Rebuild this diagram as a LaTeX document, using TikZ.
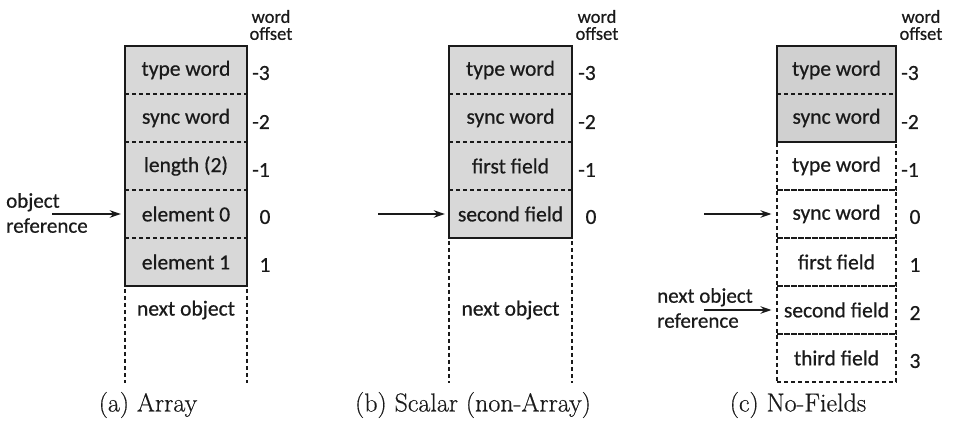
\documentclass[tikz,border=0pt]{standalone}
\usepackage{fontspec}
\newfontfamily\carl[FakeBold=0.6]{Carlito}
\newfontfamily\capf[FakeBold=0.5]{Latin Modern Roman}
\usetikzlibrary{arrows.meta}
\definecolor{grayA}{HTML}{D8D8D8}
\definecolor{grayC}{HTML}{D0D0D0}
\definecolor{ink}{HTML}{1A1A1A}
\begin{document}
\begin{tikzpicture}[x=1pt,y=-1pt,
  txt/.style={font=\carl\fontsize{21.5}{23}\selectfont, text=ink, inner sep=0pt},
  cell/.style={txt, minimum height=48pt},
  off/.style={txt},
  wo/.style={font=\carl\fontsize{18.5}{17}\selectfont, text=ink, inner sep=0pt, align=center},
  lbl/.style={font=\carl\fontsize{21}{25}\selectfont, text=ink, inner sep=0pt, align=left, anchor=west},
  sep/.style={draw=ink, dash pattern=on 4pt off 3pt, line width=1.1pt},
  outer/.style={draw=ink, line width=1.5pt},
  wcell/.style={cell, draw=ink, dash pattern=on 4pt off 3pt, line width=1.1pt},
  arr/.style={draw=ink, -{Stealth[length=11pt,width=7.5pt]}, line width=1.4pt},
  captxt/.style={font=\capf\fontsize{26}{28}\selectfont, text=ink, inner sep=0pt}
]
\useasboundingbox (0,0) rectangle (954,422);

% ---------------- (a) Array ----------------
\fill[grayA] (125,46) rectangle (247,286);
\foreach \y in {94,142,190,238} \draw[sep] (125,\y) -- (247,\y);
\draw[outer] (125,46) rectangle (247,286);
\node[cell, minimum width=122pt] (a1) at (186,70) {type word};
\node[cell, minimum width=122pt] (a2) at (186,118) {sync word};
\node[cell, minimum width=122pt] (a3) at (186,166) {length (2)};
\node[cell, minimum width=122pt] (a4) at (186,214) {element 0};
\node[cell, minimum width=122pt] (a5) at (186,262) {element 1};
\draw[sep] (125,289) -- (125,383);
\draw[sep] (247,289) -- (247,383);
\node[txt] (anext) at (186,310) {next object};
\node[off] (ao1) at (261,73) {-3};
\node[off] (ao2) at (261,122) {-2};
\node[off] (ao3) at (261,170) {-1};
\node[off] (ao4) at (265,217) {0};
\node[off] (ao5) at (265,265) {1};
\node[wo] (aw) at (271,25) {word\\offset};
\node[lbl] (aref) at (6,213) {object\\reference};
\coordinate (atail) at (52,214);
\draw[arr, shorten >=4pt] (atail) -- (a4.west);
\node[captxt] (acap) at (148,405) {(a) Array};

% ---------------- (b) Scalar ----------------
\fill[grayA] (449,46) rectangle (572,238);
\foreach \y in {94,142,190} \draw[sep] (449,\y) -- (572,\y);
\draw[outer] (449,46) rectangle (572,238);
\node[cell, minimum width=123pt] (b1) at (510.5,70) {type word};
\node[cell, minimum width=123pt] (b2) at (510.5,118) {sync word};
\node[cell, minimum width=123pt] (b3) at (510.5,166) {first field};
\node[cell, minimum width=123pt] (b4) at (510.5,214) {second field};
\draw[sep] (449,241) -- (449,383);
\draw[sep] (572,241) -- (572,383);
\node[txt] (bnext) at (510.5,310) {next object};
\node[off] (bo1) at (587,73) {-3};
\node[off] (bo2) at (587,122) {-2};
\node[off] (bo3) at (587,170) {-1};
\node[off] (bo4) at (591,217) {0};
\node[wo] (bw) at (597,25) {word\\offset};
\coordinate (btail) at (378,214);
\draw[arr, shorten >=4pt] (btail) -- (b4.west);
\node[captxt] (bcap) at (473,405) {(b) Scalar (non-Array)};

% ---------------- (c) No-Fields ----------------
\fill[grayC] (777,46) rectangle (896,142);
\draw[sep] (777,94) -- (896,94);
\draw[outer] (777,46) rectangle (896,142);
\node[cell, minimum width=119pt] (c1) at (836.5,70) {type word};
\node[cell, minimum width=119pt] (c2) at (836.5,118) {sync word};
\node[wcell, minimum width=119pt] (c3) at (836.5,166) {type word};
\node[wcell, minimum width=119pt] (c4) at (836.5,214) {sync word};
\node[wcell, minimum width=119pt] (c5) at (836.5,262) {first field};
\node[wcell, minimum width=119pt] (c6) at (836.5,310) {second field};
\node[wcell, minimum width=119pt] (c7) at (836.5,358) {third field};
\node[off] (co1) at (910,73) {-3};
\node[off] (co2) at (910,122) {-2};
\node[off] (co3) at (910,170) {-1};
\node[off] (co4) at (915,217) {0};
\node[off] (co5) at (915,265) {1};
\node[off] (co6) at (915,313) {2};
\node[off] (co7) at (915,361) {3};
\node[wo] (cw) at (921,25) {word\\offset};
\coordinate (ctail1) at (704,214);
\draw[arr, shorten >=5pt] (ctail1) -- (c4.west);
\node[lbl] (cref) at (657,308) {next object\\reference};
\coordinate (ctail2) at (704,310);
\draw[arr, shorten >=5pt] (ctail2) -- (c6.west);
\node[captxt] (ccap) at (798,405) {(c) No-Fields};
\end{tikzpicture}
\end{document}
